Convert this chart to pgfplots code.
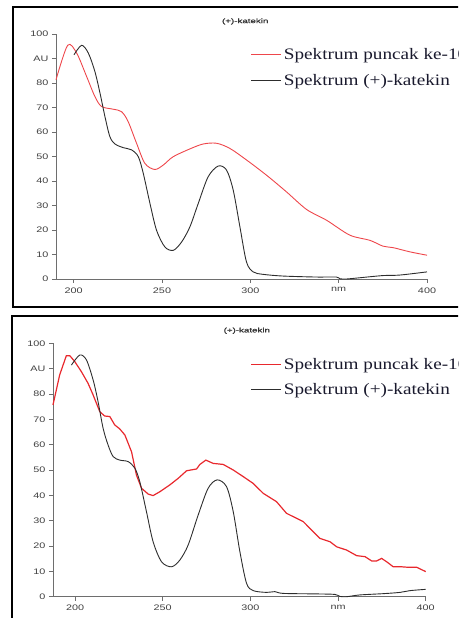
\documentclass[border=0pt]{standalone}
\usepackage{fontspec}
\setmainfont{Liberation Serif}
\newfontfamily\tickfont[FakeStretch=1.35]{Liberation Sans}
\newfontfamily\titfont[FakeStretch=1.5,FakeBold=1.2]{Liberation Sans}
\newfontfamily\legfont[FakeStretch=1.2]{Liberation Serif}
\usepackage{pgfplots}
\pgfplotsset{compat=1.18}
\definecolor{redA}{RGB}{238,70,75}
\definecolor{redB}{RGB}{232,40,45}
\definecolor{blk}{RGB}{45,45,45}
\definecolor{axc}{RGB}{110,110,110}
\definecolor{legtxt}{RGB}{25,25,45}
\pgfplotsset{
  spec/.style={
    scale only axis,
    xmin=190, xmax=400, ymin=0, ymax=100,
    axis x line=bottom, axis y line=left,
    axis line style={-, draw=axc, line width=0.8pt},
    xtick={200,250,300,350,400},
    xticklabels={200,250,300,nm,400},
    ytick={0,10,...,100},
    yticklabels={0,10,20,30,40,50,60,70,80,AU,100},
    tick align=outside, major tick length=4pt,
    tick style={draw=axc, line width=0.7pt},
    tick label style={font=\tickfont\fontsize{8}{9}\selectfont, text=black!75},
    xticklabel style={yshift=-1pt},
    title={(+)-katekin},
    title style={font=\titfont\fontsize{6.5}{8}\selectfont, text=black!80},
    legend style={draw=none, fill=none, inner sep=0pt,
      font=\legfont\fontsize{16}{18}\selectfont, text=legtxt,
      cells={anchor=west}, row sep=9pt},
    legend image code/.code={\draw[#1] (0pt,0pt) -- (30pt,0pt);},
    clip=false,
  }
}
\begin{document}
\begin{tikzpicture}
\useasboundingbox (0,0) rectangle (458pt,618pt);
\clip (0,0) rectangle (458pt,618pt);
\draw[line width=1.4pt] (13pt,611pt) rectangle (480pt,311pt);
\draw[line width=1.4pt] (12pt,302pt) rectangle (480pt,-20pt);
% top panel
\begin{axis}[spec, at={(56pt,339pt)}, anchor=south west,
  width=371pt, height=245pt,
  title style={at={(0.51,1)}, yshift=0pt},
  legend style={at={(0.525,0.95)}, anchor=north west}]
\addplot[redA, line width=0.9pt, smooth] coordinates {
(190,81.3)(196.6,95.4)(201.7,92.2)(207.3,82.7)(212,74.5)(215.8,70.4)(222.4,69.3)(227.1,68.3)(230.8,64.3)(235.6,55.4)(240.3,47.2)(245.9,44.7)(250.7,46.5)(256.3,49.9)(265.8,53.1)(273.3,55.1)(280.9,55.4)(288.4,53.3)(297.8,48.6)(309.1,42.4)(320.4,35.6)(331.8,28.4)(343.1,24.0)(356.3,17.9)(367.6,15.8)(375.1,13.4)(380.8,12.8)(390.2,11.1)(400,9.7)};
\addlegendentry{Spektrum puncak ke-10}
\addplot[blk, line width=0.9pt, smooth] coordinates {
(200.2,91.5)(204.5,95.4)(208.3,92.2)(212,84.7)(214.9,75.9)(217.7,66.3)(220.5,58.1)(223.4,55.1)(228.1,53.6)(232.8,52.7)(236.6,49.9)(239.4,43.1)(243.2,30.8)(246.9,19.9)(251.6,13.1)(256.4,11.7)(261.1,15.1)(265.8,21.3)(270.5,30.8)(276.1,41.7)(281.8,46.1)(286.5,44.5)(290.3,36.3)(294.1,21.3)(297.8,7.0)(301.6,2.9)(307.2,1.9)(318.6,1.2)(337.4,0.8)(348.7,0.8)(350.6,0.1)(354.4,0)(361.9,0.5)(375.1,1.4)(384.5,1.6)(400,2.9)};
\addlegendentry{Spektrum (+)-katekin}
\end{axis}
% bottom panel
\begin{axis}[spec, at={(53pt,21.3pt)}, anchor=south west,
  xmin=187.4,
  width=372.7pt, height=253.4pt,
  title style={at={(0.52,1)}, yshift=0pt},
  legend style={at={(0.53,0.951)}, anchor=north west}]
\addplot[redB, line width=1.2pt] coordinates {
(187.4,75.7)(191.2,87.5)(195,95.1)(197,95.1)(199.8,92.8)(203.6,88.8)(207.4,84.2)(210.3,79.6)(214.1,73)(216.9,71.3)(219.8,71.1)(222.6,67.8)(225.5,66.2)(228.4,63.8)(232.2,57.2)(235,48)(237.9,42.8)(241.7,40.5)(244.5,39.9)(248.3,41.4)(254,44.1)(258.8,46.7)(263.6,49.7)(269.3,50.4)(271.2,52.2)(274.6,53.9)(278.8,52.6)(284.5,52.2)(290.2,50)(295.9,47.4)(301.6,44.7)(307.3,40.8)(314.9,37.5)(320.6,32.9)(324.4,31.6)(330.2,29.6)(334.9,26.3)(339.7,23)(345.4,21.7)(349.2,19.7)(354.9,18.4)(360.6,16.2)(365.4,15.8)(369.2,14.1)(372,14.1)(374.9,15.1)(377.7,13.8)(381.5,11.8)(386.3,11.8)(390.1,11.6)(394.9,11.6)(400,9.9)};
\addlegendentry{Spektrum puncak ke-10}
\addplot[blk, line width=0.9pt, smooth] coordinates {
(197.9,91.4)(202.7,95.4)(206.5,93.4)(210.3,85.5)(213.1,77)(216,66.4)(218.8,59.9)(221.7,55.3)(225.5,53.9)(230.3,53.3)(234.1,50.7)(236.9,45.4)(240.7,33.6)(244.5,21.7)(249.3,13.8)(255,11.8)(259.8,14.5)(264.5,20.4)(270.2,32.2)(275.9,42.8)(281.1,46.1)(286.4,43.4)(290.2,33.6)(294,17.8)(297.8,5.3)(301.6,2.4)(309.2,1.7)(314,2)(318.7,1.3)(337.8,1.1)(348.2,0.9)(351.1,0.1)(354.9,0)(362.5,0.7)(375.8,1.2)(385.3,1.7)(391.1,2.4)(400,2.9)};
\addlegendentry{Spektrum (+)-katekin}
\end{axis}
\end{tikzpicture}
\end{document}
